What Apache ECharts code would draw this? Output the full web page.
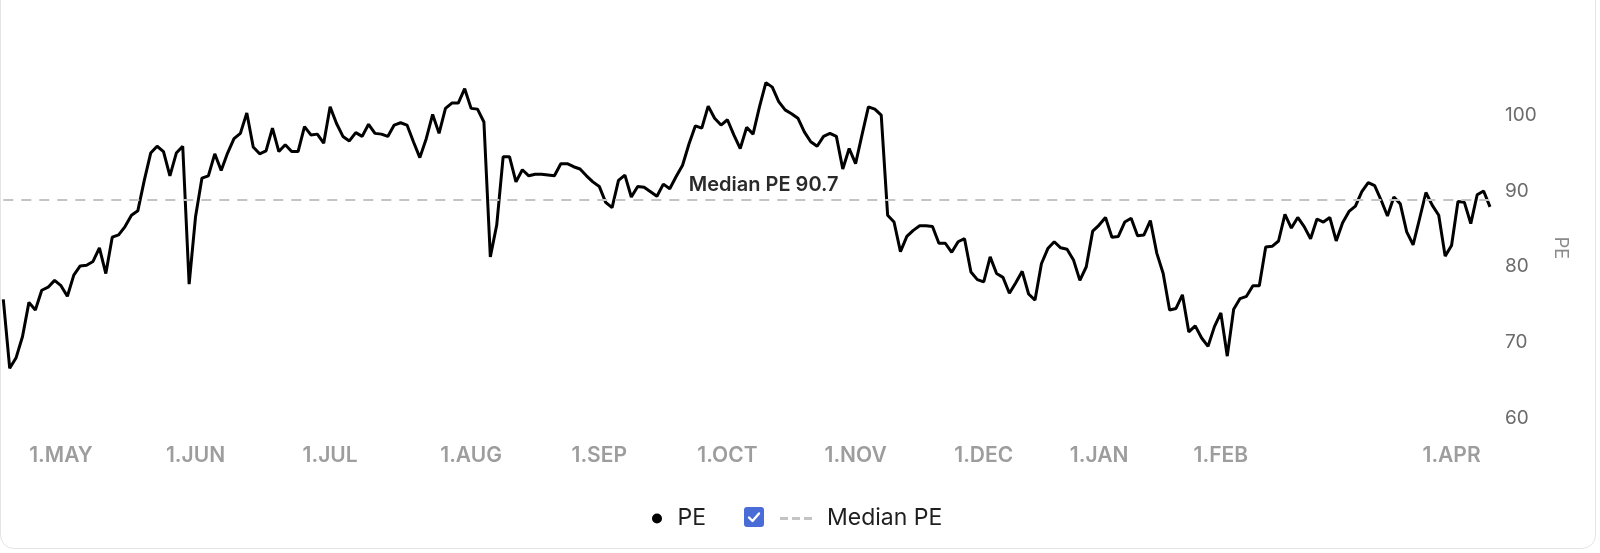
<!DOCTYPE html>
<html>
<head>
<meta charset="utf-8">
<title>PE</title>
<script src="https://cdn.jsdelivr.net/npm/echarts@6/dist/echarts.min.js"></script>
<style>
  html, body { margin: 0; padding: 0; background: #fff; }
  body { width: 1600px; height: 553px; overflow: hidden; position: relative; font-family: Inter, "Noto Sans", sans-serif; }
  .card { position: absolute; left: 0; top: -20px; width: 1596px; height: 569px; border: 1px solid #e4e4e4; border-radius: 14px; box-sizing: border-box; }
  #chart { position: absolute; left: 0; top: 0; width: 1600px; height: 553px; }
</style>
</head>
<body>
<div class="card"></div>
<div id="chart"></div>
<script>
// daily PE readings
const peValues = [
  75.7, 66.6, 68.0, 70.8, 75.3, 74.3, 76.9, 77.3, 78.2, 77.5,
  76.1, 78.9, 80.1, 80.2, 80.7, 82.5, 79.1, 83.9, 84.2, 85.3,
  86.8, 87.4, 91.4, 95.0, 95.9, 95.2, 92.0, 95.0, 95.9, 77.7,
  86.6, 91.7, 92.0, 94.9, 92.7, 95.0, 96.9, 97.6, 100.3, 95.8,
  94.9, 95.3, 98.3, 95.2, 96.1, 95.2, 95.2, 98.5, 97.4, 97.5,
  96.3, 101.1, 98.9, 97.2, 96.6, 97.7, 97.2, 98.8, 97.6, 97.5,
  97.2, 98.7, 99.0, 98.7, 96.5, 94.4, 96.9, 100.1, 97.6, 100.9,
  101.6, 101.6, 103.5, 100.9, 100.8, 99.1, 81.3, 85.5, 94.5, 94.5,
  91.2, 92.8, 92.0, 92.2, 92.2, 92.1, 92.0, 93.6, 93.6, 93.2,
  92.9, 92.0, 91.2, 90.6, 88.5, 87.8, 91.4, 92.1, 89.2, 90.6,
  90.5, 89.9, 89.3, 90.9, 90.3, 91.9, 93.4, 96.2, 98.6, 98.3,
  101.2, 99.6, 98.7, 99.4, 97.4, 95.6, 98.4, 97.5, 101.1, 104.3,
  103.7, 101.8, 100.7, 100.2, 99.6, 97.8, 96.5, 95.9, 97.2, 97.6,
  97.2, 92.9, 95.6, 93.6, 97.4, 101.1, 100.8, 100.0, 86.8, 85.9,
  82.0, 84.0, 84.8, 85.4, 85.4, 85.3, 83.1, 83.1, 81.9, 83.3,
  83.7, 79.3, 78.3, 78.0, 81.3, 79.1, 78.6, 76.5, 77.9, 79.4,
  76.4, 75.6, 80.4, 82.4, 83.3, 82.5, 82.3, 80.9, 78.2, 80.0,
  84.7, 85.5, 86.5, 83.9, 84.0, 85.9, 86.4, 84.1, 84.2, 86.1,
  81.8, 79.1, 74.3, 74.5, 76.3, 71.4, 72.2, 70.6, 69.5, 72.1,
  73.9, 68.2, 74.4, 75.8, 76.1, 77.5, 77.5, 82.6, 82.7, 83.4,
  86.9, 85.1, 86.5, 85.3, 83.7, 86.3, 85.9, 86.5, 83.4, 85.8,
  87.3, 88.0, 89.9, 91.1, 90.7, 88.8, 86.7, 89.2, 88.3, 84.6,
  82.9, 86.3, 89.8, 88.1, 86.8, 81.4, 82.8, 88.6, 88.5, 85.7,
  89.5, 90.0, 87.9
]

// month labels and the point each one sits on
const monthLabels = ["1.MAY", "1.JUN", "1.JUL", "1.AUG", "1.SEP", "1.OCT", "1.NOV", "1.DEC", "1.JAN", "1.FEB", "1.APR"]
const monthIndex = [9, 30, 51, 73, 93, 113, 133, 153, 171, 190, 226]

const yTicks = [60, 70, 80, 90, 100]
const medianPE = 90.7
const medianLineLevel = 88.9

const categories = peValues.map(() => "")
monthIndex.forEach((idx, k) => { categories[idx] = monthLabels[k] })
const labelSet = new Set(monthIndex)

const chart = echarts.init(document.getElementById("chart"), null, {renderer: "canvas"})

const legendText = {fontFamily: "Inter", fontSize: 23, color: "#1f1f1f"}

chart.setOption({
  animation: false,
  backgroundColor: "transparent",
  textStyle: {fontFamily: "Inter"},
  grid: {left: 3.3, right: 110, top: 77.3, bottom: 134.7, containLabel: false},
  xAxis: {
    type: "category",
    data: categories,
    boundaryGap: false,
    axisLine: {show: false},
    axisTick: {show: false},
    splitLine: {show: false},
    axisLabel: {
      interval: idx => labelSet.has(idx),
      margin: 27,
      fontFamily: "Inter",
      fontSize: 21,
      fontWeight: 600,
      color: "#9d9d9d",
    },
  },
  yAxis: {
    type: "value",
    position: "right",
    min: yTicks[0],
    max: 105,
    interval: 10,
    name: "PE",
    nameLocation: "middle",
    nameRotate: -90,
    nameGap: 61,
    nameTextStyle: {fontFamily: "Inter", fontSize: 18, color: "#8a8a8a"},
    axisLine: {show: false},
    axisTick: {show: false},
    splitLine: {show: false},
    axisLabel: {
      margin: 15,
      fontFamily: "Inter",
      fontSize: 19,
      color: "#6b6b6b",
      formatter: v => (yTicks.includes(v) ? String(v) : ""),
    },
  },
  legend: [
    {
      data: ["PE"],
      left: 652,
      top: 507,
      padding: 0,
      icon: "circle",
      itemWidth: 31,
      itemHeight: 10,
      textStyle: legendText,
    },
    {
      data: ["Median PE"],
      left: 780,
      top: 507,
      padding: 0,
      icon: "path://M0,0h8v3h-8z M12,0h8v3h-8z M24,0h8v3h-8z",
      itemWidth: 32,
      itemHeight: 3,
      textStyle: {...legendText, padding: [0, 0, 0, 10]},
    },
  ],
  graphic: [
    {
      type: "group",
      left: 744,
      top: 507,
      silent: true,
      children: [
        {type: "rect", shape: {x: 0, y: 0, width: 20, height: 20, r: 3}, style: {fill: "#4a6cd7"}},
        {type: "polyline", shape: {points: [[5, 10.5], [8.5, 14], [15, 6.5]]}, style: {stroke: "#fff", lineWidth: 2.4, fill: null, lineCap: "round", lineJoin: "round"}},
      ],
    },
  ],
  series: [
    {
      name: "PE",
      type: "line",
      data: peValues,
      showSymbol: false,
      symbol: "none",
      itemStyle: {color: "#000"},
      lineStyle: {color: "#000", width: 3},
    },
    {
      name: "Median PE",
      type: "line",
      data: [],
      symbol: "none",
      itemStyle: {color: "#c4c4c4"},
      lineStyle: {color: "#c4c4c4", type: [10, 8], width: 2},
      markLine: {
        silent: true,
        symbol: ["none", "none"],
        lineStyle: {color: "#c4c4c4", type: [10, 8], width: 2},
        label: {
          show: true,
          position: "insideMiddleTop",
          distance: 4,
          padding: [0, 0, 0, 34],
          formatter: "Median PE " + medianPE.toFixed(1),
          fontFamily: "Inter",
          fontSize: 20,
          fontWeight: 600,
          color: "#2a2a2a",
        },
        data: [{yAxis: medianLineLevel}],
      },
    },
  ],
})

window.addEventListener("resize", () => chart.resize())
</script>
</body>
</html>
